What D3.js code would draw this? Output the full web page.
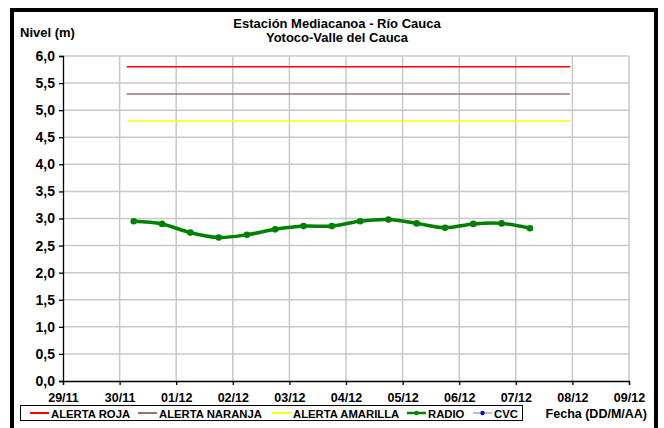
<!DOCTYPE html>
<html>
<head>
<meta charset="utf-8">
<script src="https://cdn.jsdelivr.net/npm/d3@7"></script>
<style>
  body { margin: 0; background: #fff; }
  svg text { font-family: Arial, "Liberation Sans", sans-serif; font-weight: bold; fill: #000; }
</style>
</head>
<body>
<div id="chart"></div>
<script>
// ===========Data
var xTickLabels = ["29/11", "30/11", "01/12", "02/12", "03/12", "04/12", "05/12", "06/12", "07/12", "08/12", "09/12"];
var yTicks = [0, 0.5, 1, 1.5, 2, 2.5, 3, 3.5, 4, 4.5, 5, 5.5, 6];

// alert levels (start / end in days after 29/11 00:00)
var alertNames = ["ALERTA ROJA", "ALERTA NARANJA", "ALERTA AMARILLA"];
var alertLevels = [5.8, 5.3, 4.8];
var alertColors = ["#ff0000", "#a07070", "#ffff00"];
var alertSpan = [1.125, 8.96];

// radio readings, every 12 h from 30/11 06:00
var radioDays = [1.25, 1.75, 2.25, 2.75, 3.25, 3.75, 4.25, 4.75, 5.25, 5.75, 6.25, 6.75, 7.25, 7.75, 8.25];
var radioValues = [2.95, 2.90, 2.74, 2.65, 2.70, 2.80, 2.86, 2.86, 2.95, 2.98, 2.91, 2.83, 2.90, 2.91, 2.82];

// ===========Set Height, Width and Margins
var svgWidth = 664, svgHeight = 428;
var margin = { top: 56, left: 63, right: 35, bottom: 47 };
var width = svgWidth - margin.left - margin.right;
var height = svgHeight - margin.top - margin.bottom;

var svg = d3.select("#chart").append("svg")
    .attr("width", svgWidth)
    .attr("height", svgHeight);

// outer frame
svg.append("rect")
    .attr("x", 12).attr("y", 10)
    .attr("width", 644).attr("height", 430)
    .attr("fill", "none").attr("stroke", "#000").attr("stroke-width", 4);

var chartGroup = svg.append("g")
    .attr("transform", `translate(${margin.left}, ${margin.top})`);

// ==========Scales
var xScale = d3.scaleLinear().domain([0, 10]).range([0, width]);
var yScale = d3.scaleLinear().domain([0, 6]).range([height, 0]);

// grid
chartGroup.append("g").selectAll("line")
    .data(d3.range(1, 11))
    .enter().append("line")
    .attr("x1", d => xScale(d)).attr("x2", d => xScale(d))
    .attr("y1", 0).attr("y2", height)
    .attr("stroke", "#c8c8c8").attr("stroke-width", 1.5);

chartGroup.append("g").selectAll("line")
    .data(yTicks.slice(1))
    .enter().append("line")
    .attr("x1", 0).attr("x2", width)
    .attr("y1", d => yScale(d)).attr("y2", d => yScale(d))
    .attr("stroke", "#c8c8c8").attr("stroke-width", 1.5);

// ==========Axes
var bottomAxis = d3.axisBottom(xScale)
    .tickValues(d3.range(0, 11))
    .tickFormat((d, i) => xTickLabels[i])
    .tickSizeOuter(0).tickSize(4).tickPadding(8);
var leftAxis = d3.axisLeft(yScale)
    .tickValues(yTicks)
    .tickFormat(d => d3.format(".1f")(d).replace(".", ","))
    .tickSizeOuter(0).tickSize(4).tickPadding(4);

var xAxis = chartGroup.append("g")
    .attr("transform", `translate(0, ${height})`)
    .call(bottomAxis);
var yAxis = chartGroup.append("g").call(leftAxis);

[xAxis, yAxis].forEach(function(ax) {
    ax.selectAll("path, line").attr("stroke", "#000").attr("stroke-width", 1.3);
    ax.selectAll("text").attr("font-family", "Arial, 'Liberation Sans', sans-serif");
});
xAxis.selectAll("text").attr("font-size", 12.5);
yAxis.selectAll("text").attr("font-size", 14);

// ==========Alert lines
alertLevels.forEach(function(v, i) {
    chartGroup.append("line")
        .attr("x1", xScale(alertSpan[0])).attr("x2", xScale(alertSpan[1]))
        .attr("y1", yScale(v)).attr("y2", yScale(v))
        .attr("stroke", alertColors[i]).attr("stroke-width", 1.5);
});

// ==========Radio series
var radioData = radioDays.map((d, i) => ({ day: d, value: radioValues[i] }));
var line = d3.line()
    .x(d => xScale(d.day))
    .y(d => yScale(d.value))
    .curve(d3.curveCatmullRom.alpha(0.5));

chartGroup.append("path")
    .datum(radioData)
    .attr("d", line)
    .attr("fill", "none")
    .attr("stroke", "#008000")
    .attr("stroke-width", 3.5);

chartGroup.selectAll("circle.radio")
    .data(radioData)
    .enter().append("circle")
    .attr("class", "radio")
    .attr("cx", d => xScale(d.day))
    .attr("cy", d => yScale(d.value))
    .attr("r", 3.3)
    .attr("fill", "#008000");

// ==========Titles
svg.append("text").attr("x", 337).attr("y", 28).attr("text-anchor", "middle")
    .attr("font-size", 13).text("Estación Mediacanoa - Río Cauca");
svg.append("text").attr("x", 337).attr("y", 42).attr("text-anchor", "middle")
    .attr("font-size", 13).text("Yotoco-Valle del Cauca");
svg.append("text").attr("x", 20).attr("y", 37)
    .attr("font-size", 13).text("Nivel (m)");
svg.append("text").attr("x", 647).attr("y", 418).attr("text-anchor", "end")
    .attr("font-size", 12.5).text("Fecha (DD/M/AA)");

// ==========Legend
var legend = svg.append("g");
legend.append("rect")
    .attr("x", 20.5).attr("y", 405.5).attr("width", 502).attr("height", 15)
    .attr("fill", "#fff").attr("stroke", "#000").attr("stroke-width", 1);

var legendItems = [
    { name: alertNames[0], color: alertColors[0], x: 30, marker: null },
    { name: alertNames[1], color: alertColors[1], x: 138, marker: null },
    { name: alertNames[2], color: alertColors[2], x: 272, marker: null },
    { name: "RADIO", color: "#008000", x: 407, marker: "#008000" },
    { name: "CVC", color: "#c0c0c0", x: 473, marker: "#0000ff" }
];
legendItems.forEach(function(it) {
    var g = legend.append("g");
    g.append("line")
        .attr("x1", it.x).attr("x2", it.x + 19)
        .attr("y1", 413).attr("y2", 413)
        .attr("stroke", it.color).attr("stroke-width", it.name === "RADIO" ? 2.5 : 2);
    if (it.marker) {
        g.append("circle").attr("cx", it.x + 9.5).attr("cy", 413).attr("r", 2.2).attr("fill", it.marker);
    }
    g.append("text").attr("x", it.x + 21).attr("y", 417.5)
        .attr("font-size", 11.3).text(it.name);
});
</script>
</body>
</html>
